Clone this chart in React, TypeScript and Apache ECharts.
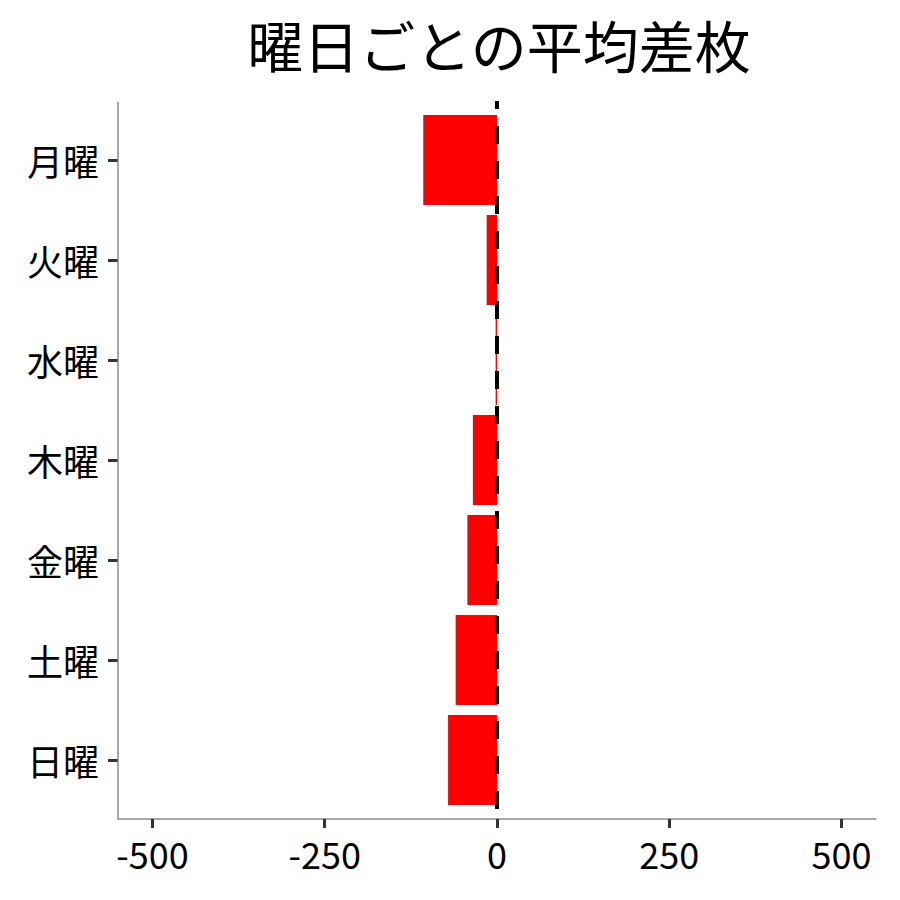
import React, { useEffect, useRef } from 'react';
import * as echarts from 'echarts';

// 曜日ごとの平均差枚
const days = ['月曜', '火曜', '水曜', '木曜', '金曜', '土曜', '日曜'];
const diffValues = [-107, -15, -2, -35, -43, -60, -71];
const xTicks = [-500, -250, 0, 250, 500];
const refValue = 0;

const FONT = '"Noto Sans CJK JP", "Noto Sans", sans-serif';

const App: React.FC = () => {
  const chartRef = useRef<HTMLDivElement>(null);

  useEffect(() => {
    document.body.style.margin = '0';
    if (!chartRef.current) return;
    const chart = echarts.init(chartRef.current, undefined, { renderer: 'svg' });

    chart.setOption({
      animation: false,
      textStyle: { fontFamily: FONT },
      title: {
        text: '曜日ごとの平均差枚',
        left: 494,
        top: 10,
        textAlign: 'center',
        textStyle: { fontFamily: FONT, fontSize: 56, fontWeight: 'normal', color: '#000' },
      },
      grid: { left: 118, right: 24, top: 110, bottom: 90, containLabel: false },
      xAxis: {
        type: 'value',
        min: -550,
        max: 550,
        offset: 9,
        axisLine: { show: true, onZero: false, lineStyle: { color: '#8c8c8c', width: 1.5 } },
        axisTick: { show: true, length: 9, customValues: xTicks, lineStyle: { color: '#333', width: 3 } },
        axisLabel: {
          customValues: xTicks,
          margin: 16,
          fontSize: 36,
          color: '#000',
          fontFamily: FONT,
        },
        splitLine: { show: false },
      },
      yAxis: {
        type: 'category',
        data: days,
        inverse: true,
        axisLine: { show: false, onZero: false },
        axisTick: { show: true, alignWithLabel: true, length: 10, lineStyle: { color: '#333', width: 3 } },
        axisLabel: { margin: 19, fontSize: 36, color: '#000', fontFamily: FONT },
        splitLine: { show: false },
      },
      series: [
        {
          name: '平均差枚',
          type: 'bar',
          data: diffValues,
          barWidth: 90,
          itemStyle: { color: '#ff0000' },
        },
      ],
    });

    const zx = chart.convertToPixel({ xAxisIndex: 0 }, refValue) as number;
    chart.setOption({
      graphic: [
        {
          type: 'line',
          z: 50,
          shape: { x1: 118, y1: 102, x2: 118, y2: 819 },
          style: { stroke: '#8c8c8c', lineWidth: 1.5 },
        },
        {
          type: 'line',
          z: 100,
          shape: { x1: zx, y1: 101, x2: zx, y2: 819 },
          style: { stroke: '#000', lineWidth: 4, lineDash: [18, 17], lineDashOffset: 10 },
        },
      ],
    });

    return () => {
      chart.dispose();
    };
  }, []);

  return <div ref={chartRef} style={{ width: '900px', height: '900px' }} />;
};

export default App;
